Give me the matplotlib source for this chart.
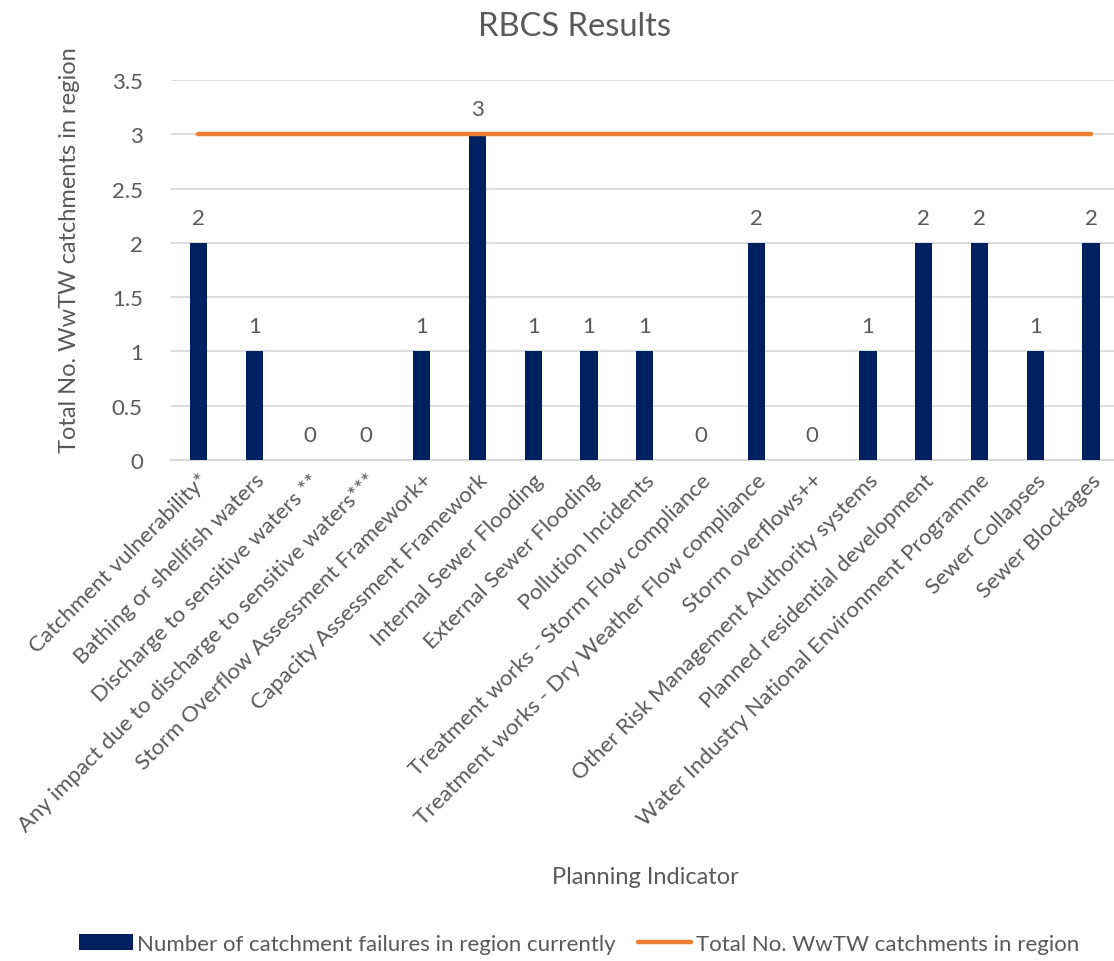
import matplotlib.pyplot as plt
import numpy as np

plt.rcParams['font.family'] = ['Lato', 'DejaVu Sans']

indicators = [
    'Catchment vulnerability*',
    'Bathing or shellfish waters',
    'Discharge to sensitive waters **',
    'Any impact due to discharge to sensitive waters***',
    'Storm Overflow Assessment Framework+',
    'Capacity Assessment Framework',
    'Internal Sewer Flooding',
    'External Sewer Flooding',
    'Pollution Incidents',
    'Treatment works - Storm Flow compliance',
    'Treatment works - Dry Weather Flow compliance',
    'Storm overflows++',
    'Other Risk Management Authority systems',
    'Planned residential development',
    'Water Industry National Environment Programme',
    'Sewer Collapses',
    'Sewer Blockages',
]
failures = [2, 1, 0, 0, 1, 3, 1, 1, 1, 0, 2, 0, 1, 2, 2, 1, 2]
total_catchments = [3] * len(indicators)

bar_color = '#002060'
line_color = '#ED7D31'
text_color = '#595959'
grid_color = '#D9D9D9'

fig = plt.figure(figsize=(11.14, 9.62), dpi=100)
ax = fig.add_axes([0.1531, 0.5208, 0.8513, 0.3950])

x = np.arange(len(indicators))
bars = ax.bar(x, failures, width=0.31, color=bar_color, zorder=3,
              label='Number of catchment failures in region currently')
line, = ax.plot(x, total_catchments, color=line_color, linewidth=3.2,
                solid_capstyle='round', zorder=4,
                label='Total No. WwTW catchments in region')

for xi, v in zip(x, failures):
    ax.annotate(str(v), (xi, v), xytext=(0, 11), textcoords='offset points',
                ha='center', va='bottom', fontsize=16, color=text_color)

ax.set_xlim(-0.5, len(indicators) - 0.5)
ax.set_ylim(0, 3.5)
ax.set_yticks(np.arange(0, 3.51, 0.5))
ax.set_yticklabels(['0', '0.5', '1', '1.5', '2', '2.5', '3', '3.5'])
ax.yaxis.grid(True, color=grid_color, linewidth=1.3, zorder=0)
ax.set_axisbelow(True)
for s in ['top', 'right', 'left']:
    ax.spines[s].set_visible(False)
ax.spines['bottom'].set_color(grid_color)
ax.spines['bottom'].set_linewidth(1.6)
ax.tick_params(axis='both', length=0, colors=text_color, labelsize=16)
ax.tick_params(axis='y', pad=20)
ax.tick_params(axis='x', pad=7)
ax.set_xticks(x)
ax.set_xticklabels(indicators, rotation=45, ha='right', rotation_mode='anchor')

fig.text(574 / 1114, 1 - 27 / 962, 'RBCS Results', ha='center', va='center',
         fontsize=23.5, color=text_color)
fig.text(70 / 1114, 1 - 250 / 962, 'Total No. WwTW catchments in region',
         rotation=90, ha='center', va='center', fontsize=17, color=text_color)
fig.text(645 / 1114, 1 - 878 / 962, 'Planning Indicator', ha='center',
         va='center', fontsize=17, color=text_color)

leg = fig.legend([bars, line], [bars.get_label(), line.get_label()],
                 loc='center', bbox_to_anchor=(579 / 1114, 1 - 945 / 962),
                 ncol=2, frameon=False, fontsize=16, handlelength=2.4,
                 handletextpad=0.2, columnspacing=1.0, labelcolor=text_color)

fig.savefig('out.png', dpi=100)
